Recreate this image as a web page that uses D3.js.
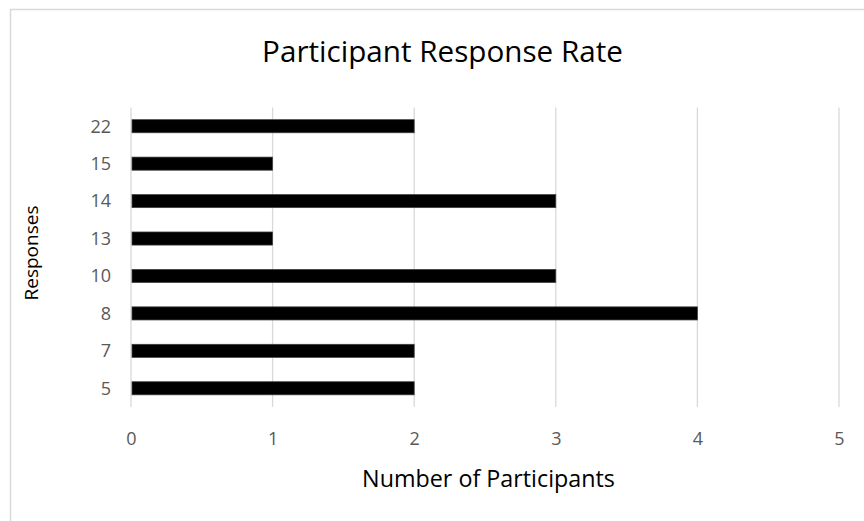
<!DOCTYPE html>
<html>
<head>
<meta charset="utf-8">
<script src="https://cdn.jsdelivr.net/npm/d3@7/dist/d3.min.js"></script>
<style>
  html, body { margin: 0; padding: 0; background: #ffffff; }
  svg { display: block; }
  text { font-family: "Open Sans", "Noto Sans", sans-serif; }
</style>
</head>
<body>
<svg id="chart" width="864" height="521"></svg>
<script>
// Response counts per number of responses
const categories = ["5", "7", "8", "10", "13", "14", "15", "22"];
const participants = [2, 2, 4, 3, 1, 3, 1, 2];
const xTicks = [0, 1, 2, 3, 4, 5];

const titleText = "Participant Response Rate";
const xTitleText = "Number of Participants";
const yTitleText = "Responses";

const svg = d3.select("#chart");

// chart frame (extends past the bottom/right edges)
svg.append("rect")
  .attr("x", 10.5).attr("y", 9.5)
  .attr("width", 900).attr("height", 600)
  .attr("fill", "#ffffff")
  .attr("stroke", "#d9d9d9")
  .attr("stroke-width", 1.5);

const plot = { left: 131, right: 839, top: 107.5, bottom: 407 };

const x = d3.scaleLinear().domain([0, 5]).range([plot.left, plot.right]);
const y = d3.scaleBand()
  .domain(categories.slice().reverse())
  .range([plot.top, plot.bottom])
  .paddingInner(0.65)
  .paddingOuter(0.325);

// vertical gridlines
svg.append("g")
  .selectAll("line")
  .data(xTicks)
  .join("line")
  .attr("x1", d => x(d)).attr("x2", d => x(d))
  .attr("y1", plot.top).attr("y2", plot.bottom)
  .attr("stroke", "#d9d9d9")
  .attr("stroke-width", 1.3);

// bars
svg.append("g")
  .selectAll("rect")
  .data(categories.map((c, i) => ({ c, v: participants[i] })))
  .join("rect")
  .attr("x", x(0) + 1)
  .attr("y", d => y(d.c))
  .attr("width", d => x(d.v) - x(0) - 1)
  .attr("height", y.bandwidth())
  .attr("fill", "#000000")
  .attr("stroke", "#404040")
  .attr("stroke-width", 0.75);

const tickFont = 18;

// x tick labels
const xAxis = d3.axisBottom(x).tickValues(xTicks).tickFormat(d3.format("d")).tickSize(0).tickPadding(0);
const gx = svg.append("g").attr("transform", `translate(0, 444.5)`).call(xAxis);
gx.attr("font-size", null).attr("font-family", null);
gx.select(".domain").remove();
gx.selectAll("text")
  .attr("dy", 0)
  .attr("fill", "#595959")
  .attr("font-size", tickFont);

// y tick labels
const yAxis = d3.axisLeft(y).tickSize(0).tickPadding(0);
const gy = svg.append("g").attr("transform", `translate(111, 0)`).call(yAxis);
gy.attr("font-size", null).attr("font-family", null);
gy.select(".domain").remove();
gy.selectAll("text")
  .attr("dy", "0.35em")
  .attr("fill", "#595959")
  .attr("font-size", tickFont);

// fit a text element to a given width by adjusting its font size
function fitText(sel, targetWidth, startSize) {
  sel.attr("font-size", startSize);
  const w = sel.node().getComputedTextLength();
  sel.attr("font-size", (startSize * targetWidth / w).toFixed(2));
}

const title = svg.append("text")
  .attr("x", 442.5).attr("y", 62)
  .attr("text-anchor", "middle")
  .attr("fill", "#000000")
  .text(titleText);
fitText(title, 361, 24);

const xTitle = svg.append("text")
  .attr("x", 488.5).attr("y", 487)
  .attr("text-anchor", "middle")
  .attr("fill", "#000000")
  .text(xTitleText);
fitText(xTitle, 253, 18);

const yTitle = svg.append("text")
  .attr("transform", `translate(38, 253) rotate(-90)`)
  .attr("text-anchor", "middle")
  .attr("fill", "#000000")
  .text(yTitleText);
fitText(yTitle, 95, 18);
</script>
</body>
</html>
